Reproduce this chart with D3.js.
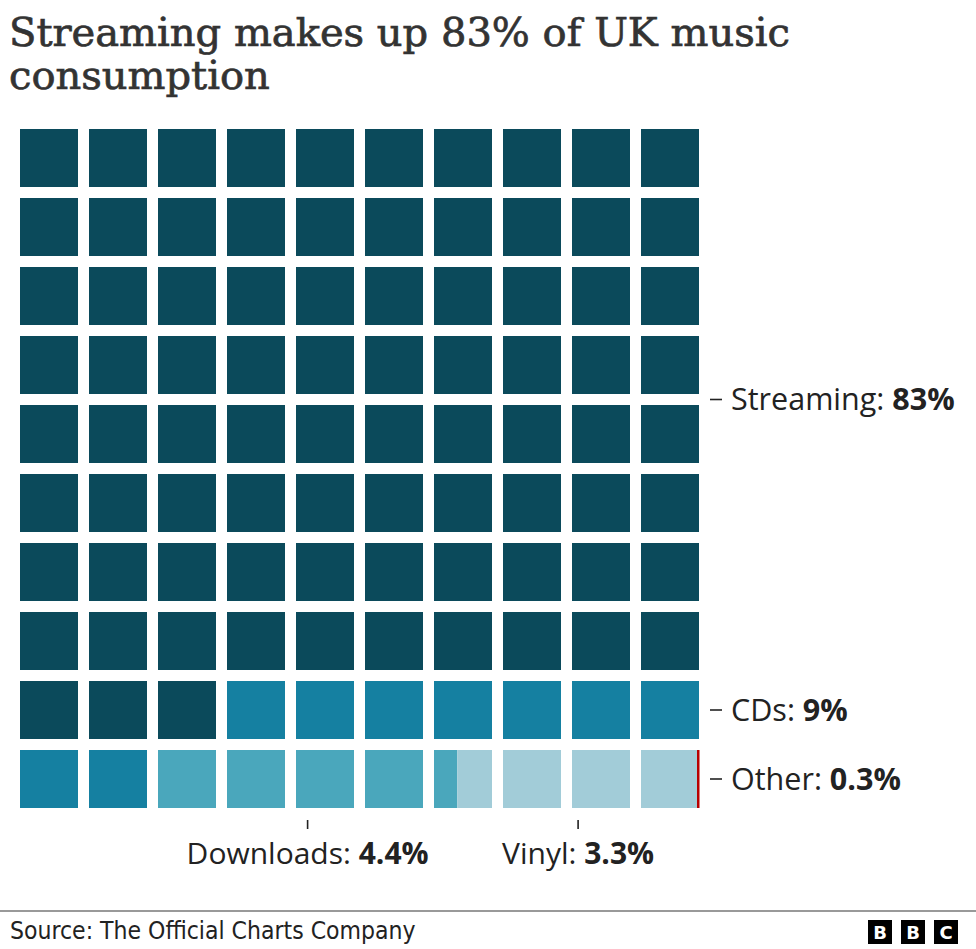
<!DOCTYPE html>
<html><head><meta charset="utf-8">
<script src="https://cdn.jsdelivr.net/npm/d3@7"></script>
<style>
html,body{margin:0;padding:0;background:#fff;}
svg{display:block;}
</style></head>
<body>
<svg id="chart" width="976" height="949"></svg>
<script>
const titleLines = ["Streaming makes up 83% of UK music", "consumption"];
const categories = ["Streaming", "CDs", "Downloads", "Vinyl", "Other"];
const values = [83, 9, 4.4, 3.3, 0.3];
const valueLabels = ["83%", "9%", "4.4%", "3.3%", "0.3%"];
const colors = ["#0b4a5b", "#1580a1", "#4aa7bc", "#a2ccd8", "#b80000"];
const labelSide = ["right", "right", "below", "below", "right"];
const source = "Source: The Official Charts Company";

const svg = d3.select("#chart");
const ink = "#222";
const cols = d3.range(10), rows = d3.range(10);
const x = d3.scaleBand().domain(cols).range([20, 699]).paddingInner(11/69).paddingOuter(0);
const y = d3.scaleBand().domain(rows).range([129, 808]).paddingInner(11/69).paddingOuter(0);
const bw = x.bandwidth(), bh = y.bandwidth();

// title
const title = svg.append("text").attr("font-family", "DejaVu Serif").attr("fill", "#333")
  .attr("stroke", "#333").attr("stroke-width", 0.7).attr("font-size", 40);
titleLines.forEach((t, i) => title.append("tspan").attr("x", 9).attr("y", 46 + i * 43).text(t));

// segments in cell units
const total = d3.sum(values);
let cum = 0;
const segs = values.map((v, i) => { const s = { i, start: cum, end: cum + v * 100 / total }; cum = s.end; return s; });
// tiny segments are shown as an edge marker; the previous segment fills up to it
segs.forEach((s, k) => {
  if (values[k] < 1 && k > 0) { segs[k - 1].end = s.end; s.marker = true; }
});

const g = svg.append("g");
segs.forEach(s => {
  if (s.marker) return;
  for (let c = Math.floor(s.start); c < Math.ceil(s.end - 1e-9); c++) {
    const a = Math.max(s.start, c) - c, b = Math.min(s.end, c + 1) - c;
    if (b <= a) continue;
    const col = c % 10, row = Math.floor(c / 10);
    g.append("rect")
      .attr("x", x(col) + a * bw).attr("y", y(row))
      .attr("width", (b - a) * bw).attr("height", bh)
      .attr("fill", colors[s.i]);
  }
});
// markers
segs.filter(s => s.marker).forEach(s => {
  const c = Math.ceil(s.end) - 1, col = c % 10, row = Math.floor(c / 10);
  g.append("rect").attr("x", x(col) + bw - 2).attr("y", y(row))
    .attr("width", 2.5).attr("height", bh).attr("fill", colors[s.i]);
});

// labels
const fontSans = "'Open Sans', 'Noto Sans', sans-serif";
segs.forEach(s => {
  const k = s.i;
  if (labelSide[k] === "right") {
    // rows where this category reaches the last column
    const rs = rows.filter(r => {
      const c = r * 10 + 9;
      return s.marker ? (Math.ceil(s.end) - 1 === c) : (s.start < c + 1 && segs[k].end >= c + 1 - 1e-9 && !(segs[k+1] && segs[k+1].marker && Math.ceil(segs[k+1].end)-1===c));
    });
    const yc = (y(d3.min(rs)) + y(d3.max(rs)) + bh) / 2;
    svg.append("line").attr("x1", 710).attr("x2", 722).attr("y1", yc).attr("y2", yc).attr("stroke", ink).attr("stroke-width", 1.6);
    const t = svg.append("text").attr("x", 731).attr("y", yc + 10.5).attr("font-family", fontSans).attr("font-size", 30.5).attr("fill", ink);
    t.append("tspan").text(categories[k] + ": ");
    t.append("tspan").attr("font-weight", "bold").text(valueLabels[k]);
  } else {
    // middle of the segment within the last row
    const r = 9;
    const a = Math.max(s.start, r * 10), b = Math.min(s.end, r * 10 + 10);
    const pos = u => { const c = Math.min(Math.floor(u), 99); return x(c % 10) + (u - c) * bw; };
    const xm = (pos(a) + pos(b - 1e-9)) / 2;
    svg.append("line").attr("x1", xm).attr("x2", xm).attr("y1", 820).attr("y2", 829).attr("stroke", ink).attr("stroke-width", 1.6);
    const t = svg.append("text").attr("x", xm).attr("y", 864).attr("text-anchor", "middle").attr("font-family", fontSans).attr("font-size", 30).attr("fill", ink);
    t.append("tspan").text(categories[k] + ": ");
    t.append("tspan").attr("font-weight", "bold").text(valueLabels[k]);
  }
});

// footer
svg.append("rect").attr("x", 0).attr("y", 910).attr("width", 976).attr("height", 2).attr("fill", "#999");
svg.append("text").attr("x", 10).attr("y", 939).attr("font-family", "'Liberation Sans Narrow', 'DejaVu Sans Condensed', sans-serif")
  .attr("font-size", 24.5).attr("fill", ink).text(source);
const logo = svg.append("g");
["B", "B", "C"].forEach((l, i) => {
  logo.append("rect").attr("x", 868 + i * 33).attr("y", 920).attr("width", 24).attr("height", 24).attr("fill", "#000");
  logo.append("text").attr("x", 880 + i * 33).attr("y", 939).attr("text-anchor", "middle")
    .attr("font-family", "'DejaVu Sans', sans-serif").attr("font-weight", "bold").attr("font-size", 18).attr("fill", "#fff").text(l);
});
</script>
</body></html>
